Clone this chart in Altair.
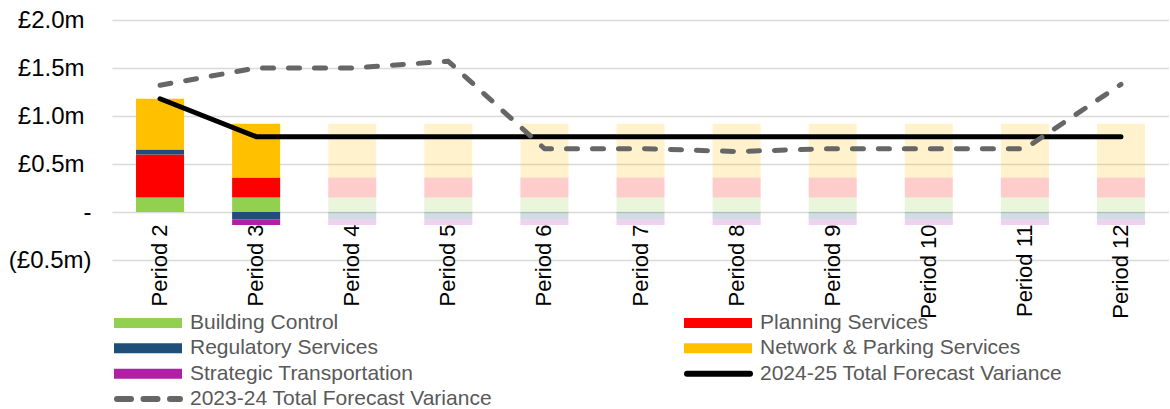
import altair as alt
import pandas as pd

# ---- data (£m) ----
periods = ["Period 2", "Period 3", "Period 4", "Period 5", "Period 6", "Period 7",
           "Period 8", "Period 9", "Period 10", "Period 11", "Period 12"]
# periods 2-3 are actuals, later periods are forecast and drawn faded
bar_opacity = [1, 1, 0.2, 0.2, 0.2, 0.2, 0.2, 0.2, 0.2, 0.2, 0.2]

building_control = [0.15, 0.15, 0.15, 0.15, 0.15, 0.15, 0.15, 0.15, 0.15, 0.15, 0.15]
planning_services = [0.45, 0.21, 0.21, 0.21, 0.21, 0.21, 0.21, 0.21, 0.21, 0.21, 0.21]
regulatory_services = [0.05, -0.075, -0.075, -0.075, -0.075, -0.075, -0.075, -0.075, -0.075, -0.075, -0.075]
network_parking = [0.53, 0.56, 0.56, 0.56, 0.56, 0.56, 0.56, 0.56, 0.56, 0.56, 0.56]
strategic_transport = [0.0, -0.06, -0.06, -0.06, -0.06, -0.06, -0.06, -0.06, -0.06, -0.06, -0.06]

total_2024_25 = [1.18, 0.785, 0.785, 0.785, 0.785, 0.785, 0.785, 0.785, 0.785, 0.785, 0.785]
total_2023_24 = [1.32, 1.50, 1.50, 1.57, 0.66, 0.66, 0.63, 0.66, 0.66, 0.66, 1.33]

series_names = ["Building Control", "Planning Services", "Regulatory Services",
                "Network & Parking Services", "Strategic Transportation"]
series_values = [building_control, planning_services, regulatory_services,
                 network_parking, strategic_transport]
series_colors = ["#92D050", "#FF0000", "#1F4E79", "#FFC000", "#B01FA5"]

line_names = ["2024-25 Total Forecast Variance", "2023-24 Total Forecast Variance"]

FONT = "Liberation Sans"

# ---- tables ----
bar_rows = []
for s_idx, (name, vals) in enumerate(zip(series_names, series_values)):
    for p_idx, p in enumerate(periods):
        bar_rows.append({"period": p, "series": name, "value": vals[p_idx],
                         "stack_order": s_idx, "op": bar_opacity[p_idx]})
bars_df = pd.DataFrame(bar_rows)

lines_df = pd.DataFrame({"period": periods, "t2425": total_2024_25, "t2324": total_2023_24})

x_scale = alt.Scale(domain=periods, paddingInner=0.5, paddingOuter=0.25)
y_scale = alt.Scale(domain=[-0.5, 2.0], nice=False, zero=False)

# accounting-style labels: £1.0m / - / (£0.5m)
y_label_expr = ("datum.value > 0 ? '£' + format(datum.value, '.1f') + 'm' : "
                "(datum.value < 0 ? '(£' + format(-datum.value, '.1f') + 'm)' : '-')")

x_axis = alt.Axis(title=None, labelAngle=-90, domain=False, ticks=False, grid=False,
                  labelPadding=12, offset=-48, labelFont=FONT, labelFontSize=22,
                  labelColor="#000000")
y_axis = alt.Axis(title=None, values=[-0.5, 0, 0.5, 1.0, 1.5, 2.0], labelExpr=y_label_expr,
                  domain=False, ticks=False, grid=True, gridColor="#D9D9D9", gridWidth=1.5,
                  labelPadding={"condition": {"test": "datum.value > 0", "value": 28},
                                "value": 21},
                  labelFont=FONT, labelFontSize=24, labelColor="#000000")

bars = alt.Chart(bars_df).mark_bar().encode(
    x=alt.X("period:N", scale=x_scale, axis=x_axis, sort=periods),
    y=alt.Y("value:Q", scale=y_scale, axis=y_axis, stack="zero"),
    color=alt.Color("series:N", scale=alt.Scale(domain=series_names, range=series_colors),
                    legend=None),
    order=alt.Order("stack_order:Q", sort="ascending"),
    opacity=alt.Opacity("op:Q", scale=None),
)

line_2425 = alt.Chart(lines_df).mark_line(
    color="#000000", strokeWidth=5, strokeCap="round", strokeJoin="round"
).encode(
    x=alt.X("period:N", scale=x_scale, sort=periods, bandPosition=0.5),
    y=alt.Y("t2425:Q", scale=y_scale),
)

line_2324 = alt.Chart(lines_df).mark_line(
    color="#666666", strokeWidth=5, strokeCap="round", strokeJoin="round",
    strokeDash=[11, 15]
).encode(
    x=alt.X("period:N", scale=x_scale, sort=periods, bandPosition=0.5),
    y=alt.Y("t2324:Q", scale=y_scale),
)

main = alt.layer(bars, line_2425, line_2324).properties(width=1057, height=240)

# ---- legend: two columns, items filled row by row ----
legend_labels = series_names + line_names
legend_kinds = ["swatch"] * len(series_names) + ["solid", "dashed"]
legend_colors = series_colors + ["#000000", "#666666"]
legend_df = pd.DataFrame({
    "label": legend_labels,
    "kind": legend_kinds,
    "color": legend_colors,
    "col": [i % 2 for i in range(len(legend_labels))],
    "row": [i // 2 for i in range(len(legend_labels))],
})

lx = alt.X("col:Q", scale=alt.Scale(domain=[0, 1], range=[2, 572]), axis=None)
ly = alt.Y("row:Q", scale=alt.Scale(domain=[0, 3], range=[13, 89]), axis=None)
lx2 = alt.X2("col:Q")

swatches = alt.Chart(legend_df).transform_filter("datum.kind == 'swatch'").mark_rule(
    strokeWidth=10, strokeCap="butt", x2Offset=68
).encode(x=lx, x2=lx2, y=ly, color=alt.Color("color:N", scale=None))

solid_sym = alt.Chart(legend_df).transform_filter("datum.kind == 'solid'").mark_rule(
    strokeWidth=6, strokeCap="round", xOffset=3, x2Offset=66
).encode(x=lx, x2=lx2, y=ly, color=alt.Color("color:N", scale=None))

dashed_sym = alt.Chart(legend_df).transform_filter("datum.kind == 'dashed'").mark_rule(
    strokeWidth=6, strokeCap="round", strokeDash=[14, 12.5], xOffset=3, x2Offset=66
).encode(x=lx, x2=lx2, y=ly, color=alt.Color("color:N", scale=None))

legend_text = alt.Chart(legend_df).mark_text(
    align="left", baseline="middle", dx=76, font=FONT, fontSize=21, color="#595959"
).encode(x=lx, y=ly, text="label:N")

legend = alt.layer(swatches, solid_sym, dashed_sym, legend_text).properties(width=1057, height=92)

chart = alt.vconcat(main, legend, spacing=50, bounds="flush").properties(
    padding={"left": 8, "top": 8, "right": 0, "bottom": 0},
    background="#FFFFFF",
).configure_view(stroke=None)

chart.save("out.html", embed_options={"renderer": "svg", "actions": False})
